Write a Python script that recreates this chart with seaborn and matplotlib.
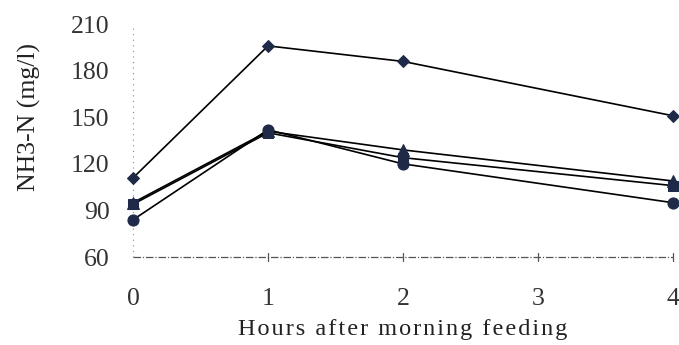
import matplotlib
matplotlib.use("Agg")
import matplotlib.pyplot as plt
import seaborn as sns
import pandas as pd

hours = [0, 1, 2, 4]
diamond = [111, 196, 186, 151]
square = [94, 140, 124, 106]
triangle = [95, 141, 129, 109]
circle = [84, 142, 120, 95]

series = {"diamond": (diamond, "D", 6),
          "triangle": (triangle, "^", 8),
          "square": (square, "s", 7),
          "circle": (circle, "o", 8)}

sns.set_style("white")
plt.rcParams["font.family"] = ["Liberation Serif", "DejaVu Serif"]

fig = plt.figure(figsize=(6.79, 3.45), dpi=100)
ax = fig.add_axes([0.196, 0.255, 0.795, 0.675])

for name, (vals, mk, ms) in series.items():
    df = pd.DataFrame({"h": hours, "v": vals})
    sns.lineplot(data=df, x="h", y="v", ax=ax, color="black", lw=1.2,
                 marker=mk, markersize=ms, markerfacecolor="#1f2a48",
                 markeredgecolor="#1f2a48", clip_on=False, zorder=3)

ax.set_xlim(0, 4)
ax.set_ylim(60, 210)
ax.set_xticks([0, 1, 2, 3, 4])
ax.set_yticks([60, 90, 120, 150, 180, 210])
for s in ax.spines.values():
    s.set_visible(False)
ax.axhline(60, color="#555555", lw=0.9, ls=(0, (6, 1.5, 1, 1.5)), zorder=1, clip_on=False)
ax.axvline(0, color="#888888", lw=0.8, ls=(0, (1, 4)), zorder=1, clip_on=False)
for x in [1, 2, 3, 4]:
    ax.plot([x, x], [57.5, 62.5], color="#555555", lw=0.9, clip_on=False)
ax.tick_params(axis="both", length=0, labelsize=18.5, colors="#333333")
ax.tick_params(axis="x", pad=22)
ax.tick_params(axis="y", pad=17)

xlabel = "\u200a".join("Hours after morning feeding")
ax.set_xlabel(xlabel, fontsize=17.5, color="#222222", labelpad=7)
ax.set_ylabel("NH3-N (mg/l)", fontsize=18.5, color="#222222")
ax.yaxis.set_label_coords(-0.17, 0.6)

fig.savefig("out.png", dpi=100)
